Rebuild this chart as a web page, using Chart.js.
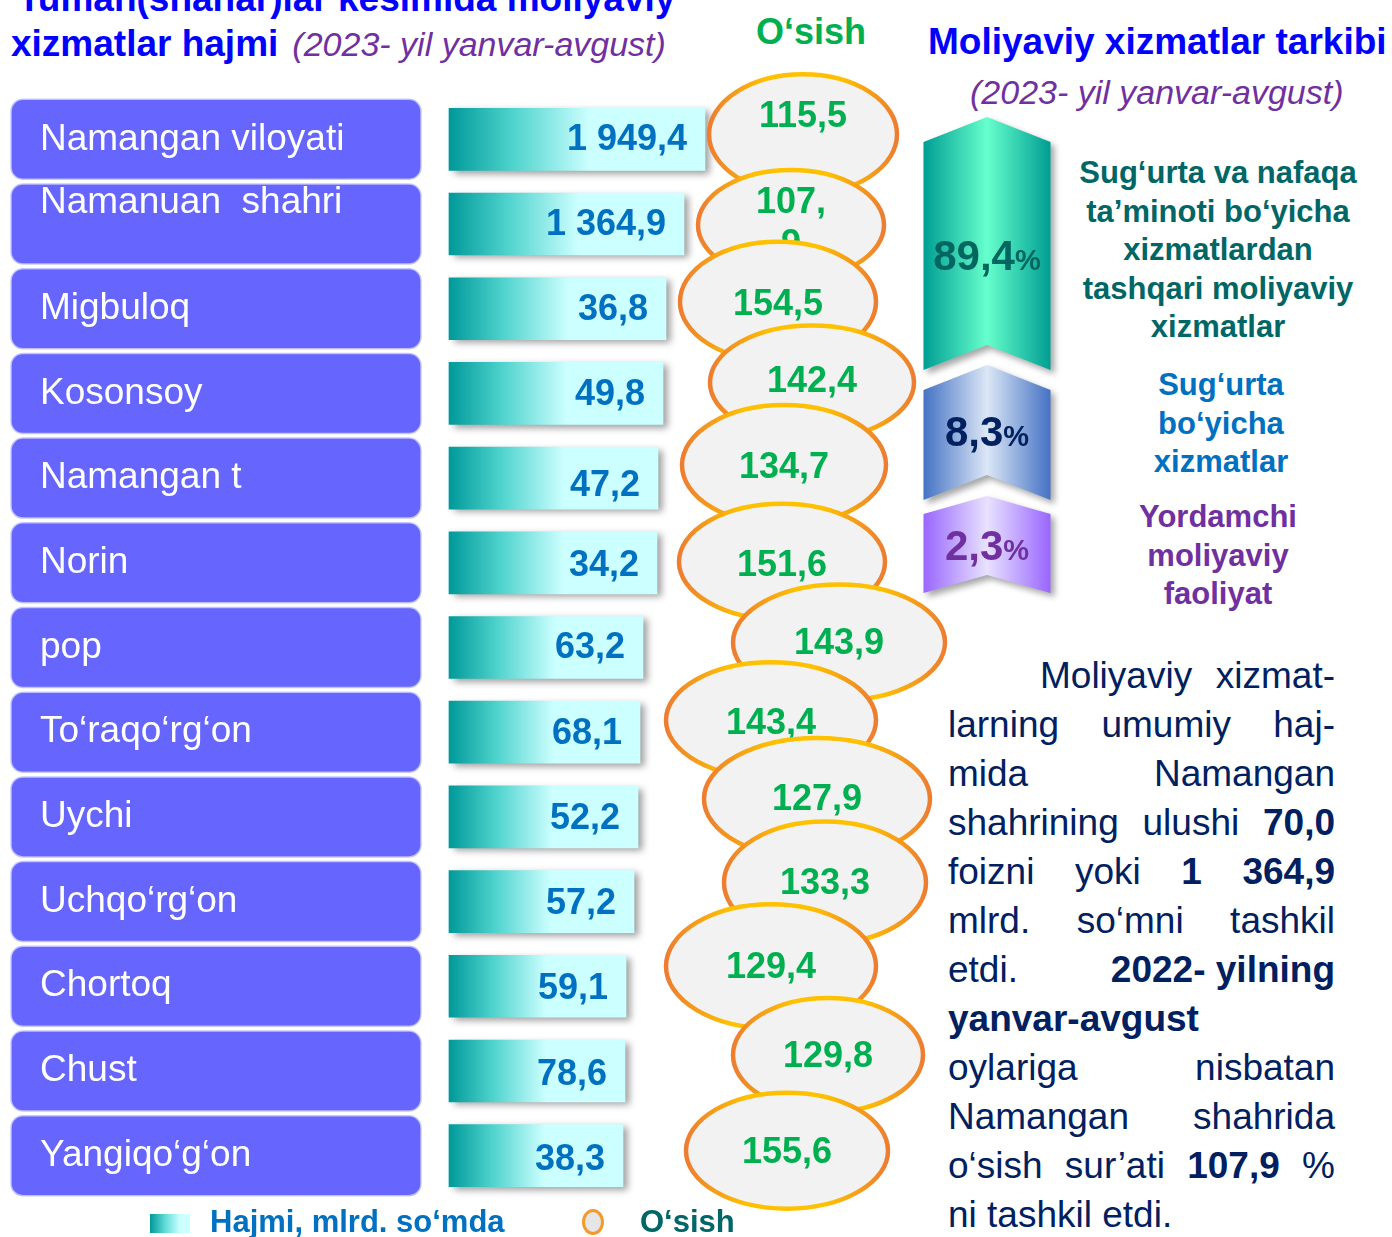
<!DOCTYPE html>
<html>
<head>
<meta charset="utf-8">
<script src="https://cdn.jsdelivr.net/npm/chart.js@4.4.1/dist/chart.umd.min.js"></script>
<style>
html,body{margin:0;padding:0;background:#fff;}
body{width:1392px;height:1237px;overflow:hidden;position:relative;font-family:"Liberation Sans",Arial,sans-serif;}
.t{position:absolute;white-space:nowrap;}
canvas{position:absolute;}
#main{left:0;top:60px;}
#chev{left:902px;top:105px;}
.grp{position:absolute;text-align:center;font-weight:bold;font-size:31px;line-height:38.5px;white-space:nowrap;}
#para{position:absolute;left:948px;top:651px;width:387px;font-size:37px;line-height:49px;color:#002060;}
#para div{white-space:nowrap;}
#para .j{text-align:justify;text-align-last:justify;white-space:normal;}
#para .keep{display:inline-block;white-space:nowrap;}
</style>
</head>
<body>

<div class="t" style="left:18px;top:-22px;font-size:37px;line-height:42px;font-weight:bold;color:#0000FF">Tuman(shahar)lar kesimida moliyaviy</div>
<div class="t" style="left:11px;top:23px;font-size:37px;line-height:42px;color:#0000FF"><b>xizmatlar hajmi</b><span style="margin-left:14px;font-size:34px;font-style:italic;color:#7030A0">(2023- yil yanvar-avgust)</span></div>
<div class="t" style="left:756px;top:11px;font-size:36px;line-height:42px;font-weight:bold;color:#00B050">O‘sish</div>

<div class="t" style="left:928px;top:21px;font-size:37px;line-height:42px;font-weight:bold;color:#0000FF">Moliyaviy xizmatlar tarkibi</div>
<div class="t" style="left:970px;top:72px;font-size:34px;line-height:40px;font-style:italic;color:#7030A0">(2023- yil yanvar-avgust)</div>

<div class="grp" style="left:1068px;top:154px;width:300px;color:#006666">Sug‘urta va nafaqa<br>ta’minoti bo‘yicha<br>xizmatlardan<br>tashqari moliyaviy<br>xizmatlar</div>
<div class="grp" style="left:1071px;top:366px;width:300px;color:#0070C0">Sug‘urta<br>bo‘yicha<br>xizmatlar</div>
<div class="grp" style="left:1068px;top:498px;width:300px;color:#7030A0">Yordamchi<br>moliyaviy<br>faoliyat</div>

<div id="para">
  <div class="j" style="padding-left:92px">Moliyaviy xizmat-</div>
  <div class="j">larning umumiy haj-</div>
  <div class="j">mida Namangan</div>
  <div class="j">shahrining ulushi <b>70,0</b></div>
  <div class="j">foizni yoki <b>1 364,9</b></div>
  <div class="j">mlrd. so‘mni tashkil</div>
  <div class="j">etdi. <b class="keep">2022- yilning</b></div>
  <div><b>yanvar-avgust</b></div>
  <div class="j">oylariga nisbatan</div>
  <div class="j">Namangan shahrida</div>
  <div class="j">o‘sish sur’ati <b>107,9</b> %</div>
  <div>ni tashkil etdi.</div>
</div>

<canvas id="main" width="960" height="1152"></canvas>
<canvas id="chev" width="170" height="510"></canvas>

<!-- legend -->
<div style="position:absolute;left:150px;top:1214px;width:40px;height:19px;background:linear-gradient(90deg,#009999,#66dedb 40%,#ccffff 75%)"></div>
<div class="t" style="left:210px;top:1204px;font-size:31px;line-height:36px;font-weight:bold;color:#0070C0">Hajmi, mlrd. so‘mda</div>
<div style="position:absolute;left:582px;top:1209px;width:16px;height:20px;border:3.5px solid #F29B2C;border-radius:50%;background:#E7E6E6"></div>
<div class="t" style="left:640px;top:1204px;font-size:31px;line-height:36px;font-weight:bold;color:#006666">O‘sish</div>

<script>
// data
const regions = ['Namangan viloyati', ['Namanuan  shahri', ''], 'Migbuloq', 'Kosonsoy', 'Namangan t', 'Norin', 'pop',
  'To‘raqo‘rg‘on', 'Uychi', 'Uchqo‘rg‘on', 'Chortoq', 'Chust', 'Yangiqo‘g‘on'];
const hajmi = [1949.4, 1364.9, 36.8, 49.8, 47.2, 34.2, 63.2, 68.1, 52.2, 57.2, 59.1, 78.6, 38.3];
const osish = [115.5, 107.9, 154.5, 142.4, 134.7, 151.6, 143.9, 143.4, 127.9, 133.3, 129.4, 129.8, 155.6];
const tarkibLabels = ['Sug‘urta va nafaqa ta’minoti bo‘yicha xizmatlardan tashqari moliyaviy xizmatlar',
  'Sug‘urta bo‘yicha xizmatlar', 'Yordamchi moliyaviy faoliyat'];
const tarkib = [89.4, 8.3, 2.3];

// layout (picture is an infographic, bar lengths are decorative)
const BAR_START = 449;
const barEnd = [705, 684, 666, 663, 658, 657, 643, 640, 638, 634, 626, 625, 623];
const ovalX  = [803, 791, 778, 812, 784, 782, 839, 771, 817, 825, 771, 828, 787];
const ovalDy = [-5, 1, -7, -11, -13, -1, -5, -12, -18, -19, -20, -16, -5];
const ovalRx = [94, 93, 98, 102, 102, 103, 106, 105, 113, 101, 105, 95, 101];
const ovalRy = [60, 55, 60, 57, 60, 58, 58, 58, 61, 61, 62, 57, 58];
const ovalTextDy = [-17, -22, 3, 0, 3, 4, 2, 4, 1, 2, 2, 2, 2];
const barTextDy = [1, 1, 1, 2, 8, 3, 1, 2, 2, 3, 3, 4, 4];
const wrapRows = [1];
const chevSpan = [[117, 370], [365, 500], [496, 593]];
const chevNotch = [25, 25, 18];
const chevTextDy = [11, -2, 0];
const chevEdge = ['#009E93', '#4472C4', '#9966FF'];
const chevLight = ['#66FFCC', '#DCE7F6', '#E8E2FF'];
const chevInk = ['#00665F', '#002060', '#7030A0'];

const FONT = '"Liberation Sans", Arial, sans-serif';
const fmt = v => { const [a, b] = v.toFixed(1).split('.'); return a.replace(/\B(?=(\d{3})+(?!\d))/g, ' ') + ',' + b; };

function barFill(c) {
  const chart = c.chart;
  if (!chart.chartArea || c.dataIndex == null) return '#4fd3cd';
  const x = chart.scales.x;
  const x0 = x.getPixelForValue(BAR_START), x1 = x.getPixelForValue(barEnd[c.dataIndex]);
  const g = chart.ctx.createLinearGradient(x0, 0, x1, 0);
  g.addColorStop(0, '#009999');
  g.addColorStop(0.25, '#4fd3cd');
  g.addColorStop(0.55, '#ccffff');
  g.addColorStop(1, '#ccffff');
  return g;
}

const rowsPlugin = {
  id: 'rows',
  beforeDatasetsDraw(chart) {
    const { ctx } = chart, y = chart.scales.y;
    ctx.save();
    regions.forEach((lab, i) => {
      const cy = y.getPixelForValue(i);
      ctx.beginPath();
      ctx.roundRect(11, cy - 40, 410, 80, 12);
      ctx.fillStyle = '#6666FF';
      ctx.fill();
      ctx.strokeStyle = 'rgba(195,195,255,0.9)';
      ctx.lineWidth = 1.5;
      ctx.stroke();
      const lines = Array.isArray(lab) ? lab : [lab];
      ctx.fillStyle = '#fff';
      ctx.font = '37px ' + FONT;
      ctx.textBaseline = 'middle';
      ctx.textAlign = 'left';
      lines.forEach((t, k) => ctx.fillText(t, 40, cy + (k - (lines.length - 1) / 2) * 42));
    });
    ctx.restore();
  },
  beforeDatasetDraw(chart, args) {
    if (args.index !== 0) return;
    const ctx = chart.ctx;
    ctx.save();
    ctx.shadowColor = 'rgba(0,0,0,0.38)';
    ctx.shadowBlur = 7;
    ctx.shadowOffsetX = 5;
    ctx.shadowOffsetY = 3;
  },
  afterDatasetDraw(chart, args) { if (args.index === 0) chart.ctx.restore(); },
  afterDatasetsDraw(chart) {
    const ctx = chart.ctx;
    ctx.save();
    // bar values
    ctx.font = 'bold 36px ' + FONT;
    ctx.fillStyle = '#0070C0';
    ctx.textAlign = 'right';
    ctx.textBaseline = 'middle';
    chart.getDatasetMeta(0).data.forEach((b, i) => ctx.fillText(fmt(hajmi[i]), b.x - 18, b.y + barTextDy[i]));
    // growth ovals, drawn in order so each one covers the previous
    chart.getDatasetMeta(1).data.forEach((p, i) => {
      const cx = p.x, cy = p.y + ovalDy[i], rx = ovalRx[i], ry = ovalRy[i];
      ctx.beginPath();
      ctx.ellipse(cx, cy, rx, ry, 0, 0, Math.PI * 2);
      ctx.fillStyle = '#F2F2F2';
      ctx.fill();
      const g = ctx.createLinearGradient(cx - rx, 0, cx + rx, 0);
      g.addColorStop(0, '#ED7D31');
      g.addColorStop(0.3, '#FFC000');
      g.addColorStop(0.7, '#FFC000');
      g.addColorStop(1, '#ED7D31');
      ctx.strokeStyle = g;
      ctx.lineWidth = 4.5;
      ctx.stroke();
      ctx.font = 'bold 36px ' + FONT;
      ctx.fillStyle = '#00B050';
      ctx.textAlign = 'center';
      const s = fmt(osish[i]);
      if (wrapRows.includes(i)) {
        const k = s.indexOf(',') + 1;
        ctx.fillText(s.slice(0, k), cx, cy + ovalTextDy[i]);
        ctx.fillText(s.slice(k), cx, cy + ovalTextDy[i] + 42);
      } else {
        ctx.fillText(s, cx, cy + ovalTextDy[i]);
      }
    });
    ctx.restore();
  }
};

new Chart(document.getElementById('main'), {
  type: 'bar',
  data: {
    labels: regions,
    datasets: [
      {
        label: 'Hajmi, mlrd. so‘mda',
        data: barEnd.map(e => [BAR_START, e]),
        backgroundColor: barFill,
        borderWidth: 0,
        barThickness: 62
      },
      {
        type: 'scatter',
        label: 'O‘sish',
        data: ovalX.map((x, i) => ({ x, y: i })),
        pointRadius: 0,
        pointHoverRadius: 0,
        showLine: false
      }
    ]
  },
  options: {
    indexAxis: 'y',
    responsive: false,
    animation: false,
    events: [],
    layout: { padding: { top: 37, bottom: 14, left: 0, right: 0 } },
    plugins: { legend: { display: false }, tooltip: { enabled: false } },
    scales: {
      x: { type: 'linear', min: 0, max: 960, display: false, offset: false },
      y: { type: 'category', offset: true, display: false, grid: { display: false } }
    }
  },
  plugins: [rowsPlugin]
});

const chevPlugin = {
  id: 'chev',
  afterDatasetsDraw(chart) {
    const ctx = chart.ctx;
    chart.data.datasets.forEach((ds, i) => {
      const el = chart.getDatasetMeta(i).data[0];
      const top = Math.min(el.y, el.base), bot = Math.max(el.y, el.base);
      const l = el.x - el.width / 2, r = el.x + el.width / 2, n = chevNotch[i];
      ctx.save();
      ctx.beginPath();
      ctx.moveTo(l, top + n);
      ctx.lineTo(el.x, top);
      ctx.lineTo(r, top + n);
      ctx.lineTo(r, bot);
      ctx.lineTo(el.x, bot - n);
      ctx.lineTo(l, bot);
      ctx.closePath();
      const g = ctx.createLinearGradient(l, 0, r, 0);
      g.addColorStop(0, chevEdge[i]);
      g.addColorStop(0.5, chevLight[i]);
      g.addColorStop(1, chevEdge[i]);
      ctx.fillStyle = g;
      ctx.shadowColor = 'rgba(0,0,0,0.35)';
      ctx.shadowBlur = 6;
      ctx.shadowOffsetX = 4;
      ctx.shadowOffsetY = 4;
      ctx.fill();
      ctx.restore();

      ctx.save();
      const num = fmt(tarkib[i]);
      ctx.font = 'bold 42px ' + FONT;
      const w1 = ctx.measureText(num).width;
      ctx.font = 'bold 29px ' + FONT;
      const w2 = ctx.measureText('%').width;
      const x0 = el.x - (w1 + w2) / 2;
      const base = (top + bot) / 2 + chevTextDy[i] + 15;
      ctx.fillStyle = chevInk[i];
      ctx.textBaseline = 'alphabetic';
      ctx.textAlign = 'left';
      ctx.font = 'bold 42px ' + FONT;
      ctx.fillText(num, x0, base);
      ctx.font = 'bold 29px ' + FONT;
      ctx.fillText('%', x0 + w1, base);
      ctx.restore();
    });
  }
};

new Chart(document.getElementById('chev'), {
  type: 'bar',
  data: {
    labels: [''],
    datasets: tarkib.map((v, i) => ({
      label: tarkibLabels[i],
      data: [chevSpan[i]],
      backgroundColor: 'rgba(0,0,0,0)',
      borderWidth: 0,
      barThickness: 127,
      grouped: false
    }))
  },
  options: {
    responsive: false,
    animation: false,
    events: [],
    layout: { padding: 0 },
    plugins: { legend: { display: false }, tooltip: { enabled: false } },
    scales: {
      x: { display: false },
      y: { display: false, min: 105, max: 615, reverse: true }
    }
  },
  plugins: [chevPlugin]
});
</script>
</body>
</html>
